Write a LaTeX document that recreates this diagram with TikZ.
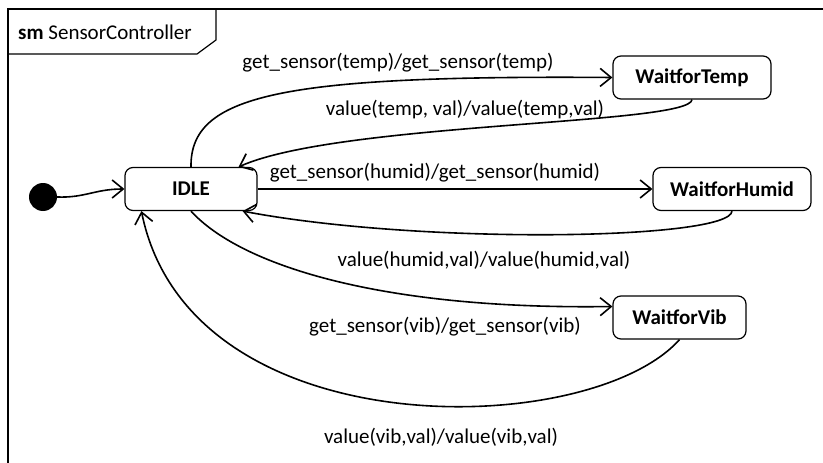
\documentclass[tikz,border=0pt]{standalone}
\usepackage{fontspec}
\setmainfont{Carlito}
\usetikzlibrary{arrows.meta}
\begin{document}
\begin{tikzpicture}[x=1pt,y=-1pt,
  every node/.style={font=\fontsize{21}{25}\selectfont},
  state/.style={draw,line width=1.2pt,rounded corners=8pt,minimum height=43pt,inner sep=0pt,font=\fontsize{21}{25}\selectfont\bfseries},
  tr/.style={line width=1.6pt,-{Straight Barb[length=11pt,width=18pt,line width=1.6pt]}},
  lbl/.style={inner sep=0pt}]
\useasboundingbox (0,0) rectangle (823,463);
\fill[white] (0,0) rectangle (823,463);
% frame
\draw[line width=2.4pt] (8,463) -- (8,9) -- (823,9);
\draw[line width=1.2pt] (216,9) -- (216,40) -- (197,54) -- (8,54);
\node[lbl,anchor=west] (title) at (18,32) {\textbf{sm} SensorController};
% states
\node[circle,fill=black,minimum size=28pt,inner sep=0pt] (init) at (43,197) {};
\node[state,minimum width=132pt] (idle) at (191,189) {IDLE};
\node[state,minimum width=158pt] (temp) at (692,77.5) {WaitforTemp};
\node[state,minimum width=158pt] (humid) at (732,189) {WaitforHumid};
\node[state,minimum width=133pt] (vib) at (679.5,317.5) {WaitforVib};
% transitions
\draw[tr] (init.east) .. controls (85,198) and (95,189) .. (idle.west);
\draw[tr] (idle.north) .. controls (190,95) and (280,75) .. (temp.west);
\draw[tr] (temp.south) .. controls (690,125) and (340,122) .. ([xshift=-19pt]idle.north east);
\draw[tr] (idle.east) -- (humid.west);
\draw[tr] (humid.south) .. controls (730,240) and (420,245) .. ([xshift=-15pt]idle.south east);
\draw[tr] (idle.south) .. controls (240,265) and (380,310) .. ([yshift=11pt]vib.west);
\draw[tr] (vib.south) .. controls (590,440) and (190,450) .. ([xshift=17pt]idle.south west);
% labels
\node[lbl] (l1) at (398,63) {get\_sensor(temp)/get\_sensor(temp)};
\node[lbl] (l2) at (465,110) {value(temp, val)/value(temp,val)};
\node[lbl] (l3) at (435,173) {get\_sensor(humid)/get\_sensor(humid)};
\node[lbl] (l4) at (484,260) {value(humid,val)/value(humid,val)};
\node[lbl] (l5) at (445,327) {get\_sensor(vib)/get\_sensor(vib)};
\node[lbl] (l6) at (441,437) {value(vib,val)/value(vib,val)};
\end{tikzpicture}
\end{document}
